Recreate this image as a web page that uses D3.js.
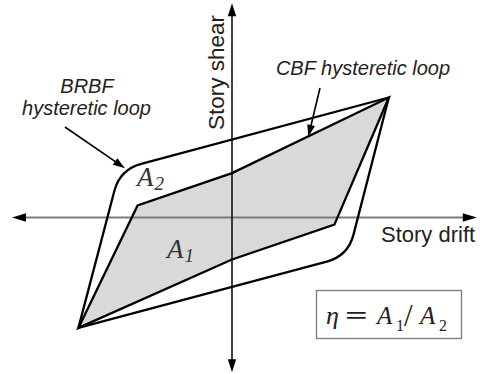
<!DOCTYPE html>
<html><head><meta charset="utf-8">
<script src="https://cdn.jsdelivr.net/npm/d3@7"></script>
<style>body{margin:0;background:#fff}svg{display:block}</style>
</head><body>
<svg id="c" width="480" height="374"></svg>
<script>
// ---- data (normalized story drift / story shear) ----
const axisDrift = [-1.375, 1.53];
const axisShear = [-1.29, 1.785];
const cbfDrift  = [-0.96, -0.59, 0.00, 0.98, 0.64, 0.00];
const cbfShear  = [-0.92,  0.10, 0.37, 1.00, -0.06, -0.35];
const brbfDrift = [-0.96, -0.70, 0.98, 0.725];
const brbfShear = [-0.92,  0.40, 1.00, -0.32];
const brbfRounded = [false, true, false, true];
const axisLabels = ["Story drift", "Story shear"];
const calloutText = [["BRBF", "hysteretic loop"], ["CBF hysteretic loop"]];
const calloutFrom = [[-1.044, 0.754], [0.55, 1.079]];
const calloutTo   = [[-0.669, 0.410], [0.477, 0.673]];

const svg = d3.select("#c");
const x = d3.scaleLinear().domain([-1, 1]).range([72, 392]);
const y = d3.scaleLinear().domain([-1, 1]).range([337.5, 97.5]);

function head(g, tx, ty, fx, fy, L, W) {
  const dx = tx - fx, dy = ty - fy, len = Math.hypot(dx, dy);
  const ux = dx / len, uy = dy / len, px = -uy, py = ux;
  const bx = tx - ux * L, by = ty - uy * L;
  g.append("path")
    .attr("d", `M${tx},${ty}L${bx + px * W},${by + py * W}L${bx - px * W},${by - py * W}Z`)
    .attr("fill", "#000");
}

// CBF fill
const cbfPts = cbfDrift.map((d, i) => [x(d), y(cbfShear[i])]);
svg.append("path").attr("d", d3.line()(cbfPts) + "Z").attr("fill", "#d9d9d9");

// axes
const axes = svg.append("g");
axes.append("line").attr("x1", x(axisDrift[0]) + 8).attr("x2", x(axisDrift[1]) - 8)
  .attr("y1", y(0)).attr("y2", y(0)).attr("stroke", "#7c7c7c").attr("stroke-width", 2);
head(axes, x(axisDrift[0]), y(0), x(0), y(0), 14, 4.2);
head(axes, x(axisDrift[1]), y(0), x(0), y(0), 14, 4.2);
axes.append("line").attr("x1", x(0)).attr("x2", x(0))
  .attr("y1", y(axisShear[1]) + 8).attr("y2", y(axisShear[0]) - 8)
  .attr("stroke", "#111").attr("stroke-width", 1.6);
head(axes, x(0), y(axisShear[1]), x(0), y(0), 13, 4.2);
head(axes, x(0), y(axisShear[0]), x(0), y(0), 13, 4.2);

// BRBF loop with rounded corners
const bp = brbfDrift.map((d, i) => [x(d), y(brbfShear[i])]);
const p = d3.path();
const r = 22;
bp.forEach((pt, i) => {
  if (!brbfRounded[i]) {
    if (i === 0) p.moveTo(pt[0], pt[1]); else p.lineTo(pt[0], pt[1]);
  } else {
    const prev = bp[(i + bp.length - 1) % bp.length], next = bp[(i + 1) % bp.length];
    const d1 = Math.hypot(prev[0] - pt[0], prev[1] - pt[1]);
    const d2 = Math.hypot(next[0] - pt[0], next[1] - pt[1]);
    const a = [pt[0] + (prev[0] - pt[0]) * r / d1, pt[1] + (prev[1] - pt[1]) * r / d1];
    const b = [pt[0] + (next[0] - pt[0]) * r / d2, pt[1] + (next[1] - pt[1]) * r / d2];
    p.lineTo(a[0], a[1]);
    p.quadraticCurveTo(pt[0], pt[1], b[0], b[1]);
  }
});
p.closePath();
svg.append("path").attr("d", p.toString()).attr("fill", "none")
  .attr("stroke", "#000").attr("stroke-width", 2.3).attr("stroke-linejoin", "miter");

// CBF loop stroke
svg.append("path").attr("d", d3.line()(cbfPts) + "Z").attr("fill", "none")
  .attr("stroke", "#000").attr("stroke-width", 2.3).attr("stroke-linejoin", "miter");

// axis labels
svg.append("text").attr("x", 381).attr("y", 242)
  .attr("font-family", "Liberation Sans, Arial, sans-serif").attr("font-size", 22)
  .attr("fill", "#222").text(axisLabels[0]);
svg.append("text").attr("transform", "translate(224,72.5) rotate(-90)")
  .attr("text-anchor", "middle")
  .attr("font-family", "Liberation Sans, Arial, sans-serif").attr("font-size", 22.5)
  .attr("fill", "#222").text(axisLabels[1]);

// callouts
const ct = svg.append("g").attr("font-family", "Liberation Sans, Arial, sans-serif")
  .attr("font-style", "italic").attr("font-size", 20).attr("fill", "#222")
  .attr("text-anchor", "middle");
ct.append("text").attr("x", 87).attr("y", 93).text(calloutText[0][0]);
ct.append("text").attr("x", 86.5).attr("y", 115).text(calloutText[0][1]);
ct.append("text").attr("x", 363).attr("y", 74.5).text(calloutText[1][0]);

calloutFrom.forEach((f, i) => {
  const fx = x(f[0]), fy = y(f[1]), tx = x(calloutTo[i][0]), ty = y(calloutTo[i][1]);
  const dx = tx - fx, dy = ty - fy, len = Math.hypot(dx, dy);
  svg.append("line").attr("x1", fx).attr("y1", fy)
    .attr("x2", tx - dx / len * 9).attr("y2", ty - dy / len * 9)
    .attr("stroke", "#000").attr("stroke-width", 1.6);
  head(svg, tx, ty, fx, fy, 12, 4);
});

// area labels
const serif = "Liberation Serif, Times New Roman, serif";
function areaLabel(xa, ya, sub) {
  const t = svg.append("text").attr("x", xa).attr("y", ya)
    .attr("font-family", serif).attr("font-style", "italic").attr("fill", "#333");
  t.append("tspan").attr("font-size", 27).text("A");
  t.append("tspan").attr("font-size", 19).attr("dy", 4).attr("dx", 1).text(sub);
}
areaLabel(137, 186, "2");
areaLabel(167, 258, "1");

// formula box
svg.append("rect").attr("x", 316.5).attr("y", 290.5).attr("width", 145).attr("height", 48)
  .attr("fill", "#fff").attr("stroke", "#808080").attr("stroke-width", 1.4);
const fg = svg.append("g").attr("font-family", serif).attr("fill", "#222");
fg.append("text").attr("x", 326).attr("y", 324).attr("font-size", 26)
  .attr("font-style", "italic").text("η");
fg.append("text").attr("transform", "translate(345,324) scale(1.6,1)")
  .attr("font-size", 25).attr("font-weight", "bold").text("=");
fg.append("text").attr("x", 377).attr("y", 324).attr("font-size", 25)
  .attr("font-style", "italic").text("A");
fg.append("text").attr("x", 396).attr("y", 331).attr("font-size", 16).text("1");
fg.append("text").attr("x", 404).attr("y", 326).attr("font-size", 31).text("/");
fg.append("text").attr("x", 420).attr("y", 324).attr("font-size", 25)
  .attr("font-style", "italic").text("A");
fg.append("text").attr("x", 439).attr("y", 331).attr("font-size", 16).text("2");
</script>
</body></html>
